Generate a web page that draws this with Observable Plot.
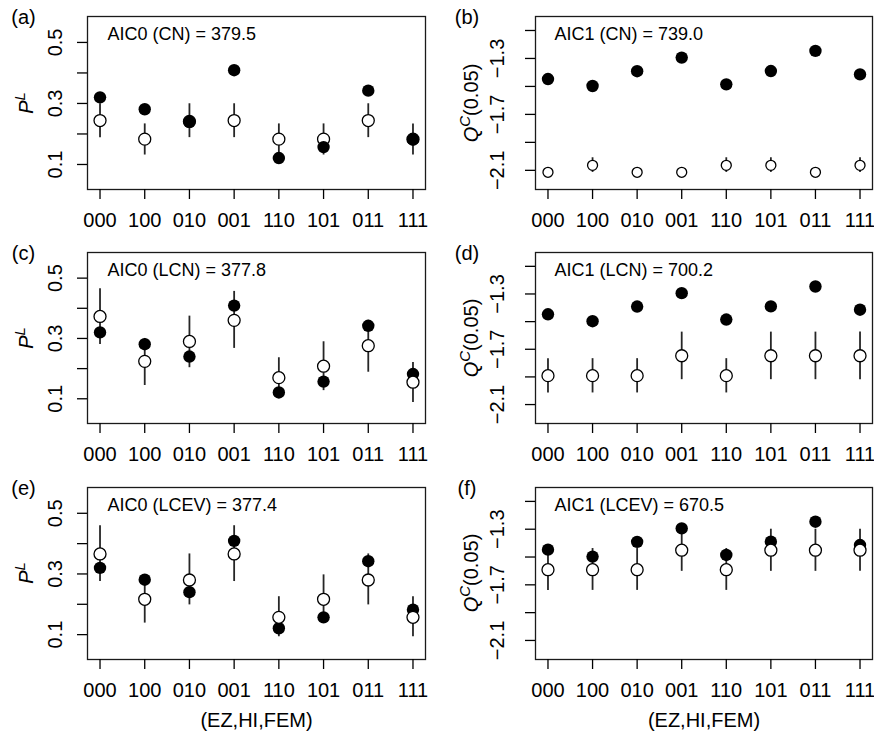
<!DOCTYPE html>
<html><head><meta charset="utf-8">
<script src="https://cdn.jsdelivr.net/npm/d3@7"></script>
<script src="https://cdn.jsdelivr.net/npm/@observablehq/plot@0.6"></script>
<style>
body{margin:0;background:#fff;}
#chart{position:relative;width:874px;height:733px;background:#fff;font-family:"Liberation Sans",Arial,sans-serif;color:#000;overflow:hidden;}
#chart svg{position:absolute;overflow:visible;}
.ylab{position:absolute;font-size:20px;line-height:20px;white-space:nowrap;transform:translate(-50%,-50%) rotate(-90deg);}
.ylab sup{font-size:15px;line-height:0;vertical-align:8px;font-style:italic;}
</style></head><body><div id="chart"></div>
<script>
// ---------- data ----------
const categories = ["000","100","010","001","110","101","011","111"];
const xIndex = [1,2,3,4,5,6,7,8];

// observed (filled circles)
const obsPL = [0.320, 0.281, 0.240, 0.409, 0.121, 0.157, 0.342, 0.182];
const obsQC = [-1.447, -1.497, -1.391, -1.294, -1.485, -1.390, -1.246, -1.414];

// CN model (open circles + intervals)
const cnPL   = [0.244, 0.183, 0.241, 0.244, 0.183, 0.183, 0.244, 0.183];
const cnPLlo = [0.188, 0.131, 0.188, 0.188, 0.131, 0.131, 0.188, 0.131];
const cnPLhi = [0.299, 0.233, 0.299, 0.299, 0.233, 0.233, 0.299, 0.233];
const cnQC   = [-2.114, -2.064, -2.114, -2.114, -2.064, -2.064, -2.114, -2.064];
const cnQClo = [-2.145, -2.115, -2.145, -2.145, -2.115, -2.115, -2.145, -2.115];
const cnQChi = [-2.083, -2.010, -2.083, -2.083, -2.010, -2.010, -2.083, -2.010];

// LCN model
const lcnPL   = [0.373, 0.224, 0.290, 0.360, 0.170, 0.208, 0.276, 0.155];
const lcnPLlo = [0.280, 0.144, 0.203, 0.267, 0.104, 0.127, 0.188, 0.088];
const lcnPLhi = [0.465, 0.300, 0.374, 0.456, 0.236, 0.289, 0.360, 0.220];
const lcnQC   = [-1.891, -1.891, -1.891, -1.747, -1.891, -1.747, -1.747, -1.747];
const lcnQClo = [-2.016, -2.016, -2.016, -1.920, -2.016, -1.920, -1.920, -1.920];
const lcnQChi = [-1.768, -1.768, -1.768, -1.576, -1.768, -1.576, -1.576, -1.576];

// LCEV model
const lcevPL   = [0.366, 0.2165, 0.280, 0.366, 0.157, 0.2165, 0.280, 0.157];
const lcevPLlo = [0.275, 0.138, 0.198, 0.275, 0.093, 0.138, 0.198, 0.093];
const lcevPLhi = [0.459, 0.297, 0.366, 0.459, 0.225, 0.297, 0.366, 0.225];
const lcevQC   = [-1.591, -1.591, -1.591, -1.451, -1.591, -1.451, -1.451, -1.451];
const lcevQClo = [-1.740, -1.740, -1.740, -1.603, -1.740, -1.603, -1.603, -1.603];
const lcevQChi = [-1.439, -1.439, -1.439, -1.300, -1.439, -1.300, -1.300, -1.300];

// axes
const plTicks = [0.1, 0.2, 0.3, 0.4, 0.5];
const plTickLabels = [0.1, 0.3, 0.5];
const qcTicks = [-2.1, -1.9, -1.7, -1.5, -1.3, -1.1];
const qcTickLabels = [-2.1, -1.7, -1.3];
const xDomain = [0.72, 8.28];
const plDomain = [0.018, 0.585];
const qcDomain = [-2.237, -1.0];
const xLabel = "(EZ,HI,FEM)";

const panels = [
  {letter:"(a)", note:"AIC0 (CN) = 379.5",  kind:"P", mod:cnPL,   lo:cnPLlo,   hi:cnPLhi,   col:0, row:0, filledOnTop:true,  openR:6},
  {letter:"(b)", note:"AIC1 (CN) = 739.0",  kind:"Q", mod:cnQC,   lo:cnQClo,   hi:cnQChi,   col:1, row:0, filledOnTop:true,  openR:5},
  {letter:"(c)", note:"AIC0 (LCN) = 377.8", kind:"P", mod:lcnPL,  lo:lcnPLlo,  hi:lcnPLhi,  col:0, row:1, filledOnTop:false, openR:6},
  {letter:"(d)", note:"AIC1 (LCN) = 700.2", kind:"Q", mod:lcnQC,  lo:lcnQClo,  hi:lcnQChi,  col:1, row:1, filledOnTop:false, openR:6},
  {letter:"(e)", note:"AIC0 (LCEV) = 377.4",kind:"P", mod:lcevPL, lo:lcevPLlo, hi:lcevPLhi, col:0, row:2, filledOnTop:false, openR:6},
  {letter:"(f)", note:"AIC1 (LCEV) = 670.5",kind:"Q", mod:lcevQC, lo:lcevQClo, hi:lcevQChi, col:1, row:2, filledOnTop:false, openR:6}
];

// ---------- layout ----------
const colGeom = [{left:0, ml:87, mr:12, letterX:23, noteDx:20, ylabX:25.5},
                 {left:437, ml:98, mr:2, letterX:29.5, noteDx:19, ylabX:33.5}];
const rowGeom = [{top:0, h:237, mt:16, mb:48},
                 {top:237, h:236, mt:15, mb:50},
                 {top:473, h:260, mt:14, mb:74}];

const fmt = d => (d < 0 ? "\u2212" + Math.abs(d).toFixed(1) : d.toFixed(1));
const chart = document.getElementById("chart");

for (const p of panels) {
  const c = colGeom[p.col], r = rowGeom[p.row];
  const isP = p.kind === "P";
  const obs = isP ? obsPL : obsQC;
  const rows = categories.map((cat, i) => ({x: xIndex[i], obs: obs[i], mod: p.mod[i], lo: p.lo[i], hi: p.hi[i]}));
  const openDots = Plot.dot(rows, {x: "x", y: "mod", r: p.openR, fill: "white", stroke: "#000", strokeWidth: 1.3});
  const filledDots = Plot.dot(rows, {x: "x", y: "obs", r: 6.2, fill: "#000"});
  const svg = Plot.plot({
    width: 437, height: r.h,
    marginLeft: c.ml, marginRight: c.mr, marginTop: r.mt, marginBottom: r.mb,
    x: {domain: xDomain},
    y: {domain: isP ? plDomain : qcDomain},
    style: {fontFamily: '"Liberation Sans", Arial, sans-serif', fontSize: "20px", color: "#000", background: "transparent", overflow: "visible"},
    marks: [
      Plot.ruleX(rows, {x: "x", y1: "lo", y2: "hi", stroke: "#262626", strokeWidth: 1.8}),
      ...(p.filledOnTop ? [openDots, filledDots] : [filledDots, openDots]),
      Plot.frame({stroke: "#1a1a1a", strokeWidth: 1.3}),
      Plot.axisX({ticks: xIndex, tickFormat: i => categories[i - 1], tickSize: 10, tickPadding: 13, fontSize: 20, strokeWidth: 1.3, label: null}),
      Plot.axisY({ticks: isP ? plTicks : qcTicks, tickSize: 10, tickFormat: () => "", strokeWidth: 1.3, label: null}),
      Plot.text(isP ? plTickLabels : qcTickLabels, {y: d => d, text: d => fmt(d), frameAnchor: "left", rotate: -90,
        textAnchor: "middle", lineAnchor: "bottom", dx: isP ? -25.3 : -31.3, fontSize: 20}),
      Plot.text([p.note], {text: d => d, frameAnchor: "top-left", dx: c.noteDx, dy: 23, textAnchor: "start", lineAnchor: "bottom", fontSize: 18}),
      Plot.text([p.letter], {text: d => d, frameAnchor: "top-left", dx: c.letterX - c.ml, dy: 7, textAnchor: "middle", lineAnchor: "bottom", fontSize: 20}),
      p.row === 2 ? Plot.text([xLabel], {text: d => d, frameAnchor: "bottom", dy: 67.5, lineAnchor: "bottom", fontSize: 20}) : null
    ]
  });
  svg.style.left = c.left + "px";
  svg.style.top = r.top + "px";
  chart.appendChild(svg);

  const lab = document.createElement("div");
  lab.className = "ylab";
  lab.innerHTML = isP ? "<i>P</i><sup>L</sup>" : "<i>Q</i><sup>C</sup>(0.05)";
  lab.style.left = (c.left + c.ylabX) + "px";
  lab.style.top = (r.top + r.mt + (r.h - r.mt - r.mb) / 2) + "px";
  chart.appendChild(lab);
}
</script></body></html>
